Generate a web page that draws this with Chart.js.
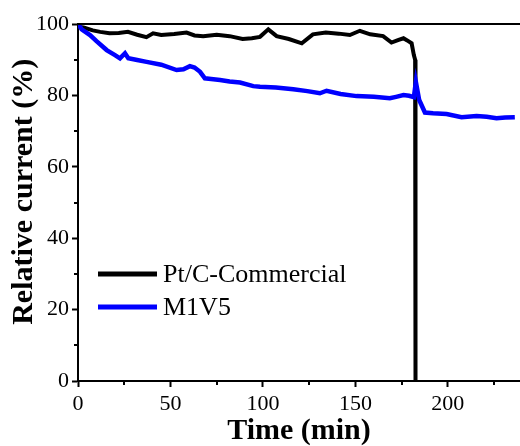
<!DOCTYPE html>
<html>
<head>
<meta charset="utf-8">
<script src="https://cdn.jsdelivr.net/npm/chart.js@4.4.1/dist/chart.umd.min.js"></script>
<style>
  html, body { margin: 0; padding: 0; background: #fff; }
  #wrap { width: 520px; height: 446px; }
</style>
</head>
<body>
<div id="wrap"><canvas id="chart" width="520" height="446"></canvas></div>
<script>
// data (menit, % arus relatif)
const ptcTime = [0, 3, 8, 12, 17, 22, 27, 32, 37, 40.6, 45, 52, 58.7, 63, 67.7, 75, 82, 89, 94, 98.4,
  102.9, 107.4, 114, 121, 127, 134, 141, 147, 152.4, 158, 165, 169.5, 173, 176, 178, 180.4, 181.6, 182.3, 182.5];
const ptcCurrent = [99.2, 99, 98.2, 97.8, 97.4, 97.5, 97.8, 97, 96.3, 97.4, 96.9, 97.2, 97.6, 96.8, 96.6, 97, 96.6, 95.8, 96, 96.4,
  98.5, 96.6, 95.8, 94.6, 97.1, 97.6, 97.3, 96.9, 98.1, 97.1, 96.6, 94.8, 95.5, 96, 95.4, 94.6, 91.3, 90, 0];

const m1v5Time = [0, 2, 6.5, 10, 15.5, 20, 22.7, 25.4, 27.2, 32, 37.1, 45, 53.3, 57, 60.5, 63, 66, 68.6, 72, 76.8,
  82, 87.6, 94.8, 98.4, 107, 116.4, 124, 130.8, 134.4, 142, 150.6, 160, 168.6, 172, 176, 179, 181.6, 182.7, 184.5,
  187.6, 192, 199.3, 207.4, 215.5, 221, 226.3, 231, 236.2];
const m1v5Current = [100, 98.5, 96.9, 95.2, 92.7, 91.3, 90.4, 91.8, 90.4, 89.9, 89.4, 88.6, 87.1, 87.3, 88.2, 87.8, 86.6, 84.8, 84.6, 84.3,
  83.9, 83.6, 82.6, 82.4, 82.2, 81.7, 81.2, 80.6, 81.3, 80.4, 79.8, 79.6, 79.2, 79.6, 80.1, 79.9, 79.5, 83.8, 78.7,
  75.2, 75, 74.8, 73.9, 74.2, 74, 73.6, 73.8, 73.9];

const seriesLabels = ['Pt/C-Commercial', 'M1V5'];
const seriesColors = ['#000000', '#0000ff'];
const xMinorTicks = [25, 75, 125, 175, 225];
const yMinorTicks = [10, 30, 50, 70, 90];
const yTitle = 'Relative current (%)';

const serif = "'Liberation Serif', 'Times New Roman', serif";

function toPoints(xs, ys) {
  return xs.map((x, i) => ({ x: x, y: ys[i] }));
}

// garis atas, tick minor, judul sumbu y dan legenda
const framePlugin = {
  id: 'frame',
  afterDraw(chart) {
    const ctx = chart.ctx;
    const area = chart.chartArea;
    const xs = chart.scales.x;
    const ys = chart.scales.y;
    ctx.save();
    ctx.strokeStyle = '#000';
    ctx.lineWidth = 2;
    ctx.beginPath();
    ctx.moveTo(area.left - 1, area.top);
    ctx.lineTo(area.right, area.top);
    ctx.stroke();

    ctx.beginPath();
    xMinorTicks.forEach(v => {
      const px = Math.round(xs.getPixelForValue(v));
      ctx.moveTo(px, area.bottom);
      ctx.lineTo(px, area.bottom + 4);
    });
    yMinorTicks.forEach(v => {
      const py = Math.round(ys.getPixelForValue(v));
      ctx.moveTo(area.left, py);
      ctx.lineTo(area.left - 4, py);
    });
    ctx.stroke();

    // judul sumbu y (sedikit di atas tengah, seperti aslinya)
    ctx.save();
    ctx.translate(24, ys.getPixelForValue(53));
    ctx.rotate(-Math.PI / 2);
    ctx.font = 'bold 30px ' + serif;
    ctx.textAlign = 'center';
    ctx.textBaseline = 'middle';
    ctx.fillStyle = '#000';
    ctx.fillText(yTitle, 0, 0);
    ctx.restore();

    // legenda
    ctx.font = '26px ' + serif;
    ctx.textBaseline = 'middle';
    ctx.fillStyle = '#000';
    seriesLabels.forEach((label, i) => {
      const ly = ys.getPixelForValue(30) + i * 33;
      const lx = area.left + 20;
      ctx.strokeStyle = seriesColors[i];
      ctx.lineWidth = 5;
      ctx.beginPath();
      ctx.moveTo(lx, ly);
      ctx.lineTo(lx + 59, ly);
      ctx.stroke();
      ctx.fillText(label, lx + 65, ly + 1);
    });
    ctx.restore();
  }
};

new Chart(document.getElementById('chart'), {
  type: 'line',
  data: {
    datasets: [
      {
        label: seriesLabels[0],
        data: toPoints(ptcTime, ptcCurrent),
        borderColor: seriesColors[0],
        borderWidth: 4,
        pointRadius: 0,
        tension: 0,
        order: 1
      },
      {
        label: seriesLabels[1],
        data: toPoints(m1v5Time, m1v5Current),
        borderColor: seriesColors[1],
        borderWidth: 4.5,
        pointRadius: 0,
        tension: 0,
        order: 0
      }
    ]
  },
  options: {
    responsive: false,
    animation: false,
    devicePixelRatio: 1,
    layout: { padding: { top: 24, right: 0, left: 0, bottom: 0 } },
    plugins: {
      legend: { display: false },
      tooltip: { enabled: false }
    },
    scales: {
      x: {
        type: 'linear',
        min: 0,
        max: 239,
        afterFit: function(scale) { scale.height = 65; },
        ticks: {
          stepSize: 50,
          includeBounds: false,
          color: '#000',
          padding: 4,
          maxRotation: 0,
          font: { family: serif, size: 22 }
        },
        grid: { drawOnChartArea: false, tickLength: 6, tickWidth: 2, tickColor: '#000' },
        border: { display: true, color: '#000', width: 2 },
        title: {
          display: true,
          text: 'Time (min)',
          color: '#000',
          padding: { top: 0, bottom: 0 },
          font: { family: serif, size: 30, weight: 'bold', lineHeight: 1 }
        }
      },
      y: {
        min: 0,
        max: 100,
        afterFit: function(scale) { scale.width = 78; },
        ticks: {
          stepSize: 20,
          color: '#000',
          padding: 3,
          font: { family: serif, size: 22 }
        },
        grid: { drawOnChartArea: false, tickLength: 6, tickWidth: 2, tickColor: '#000' },
        border: { display: true, color: '#000', width: 2 },
        title: { display: false }
      }
    }
  },
  plugins: [framePlugin]
});
</script>
</body>
</html>
